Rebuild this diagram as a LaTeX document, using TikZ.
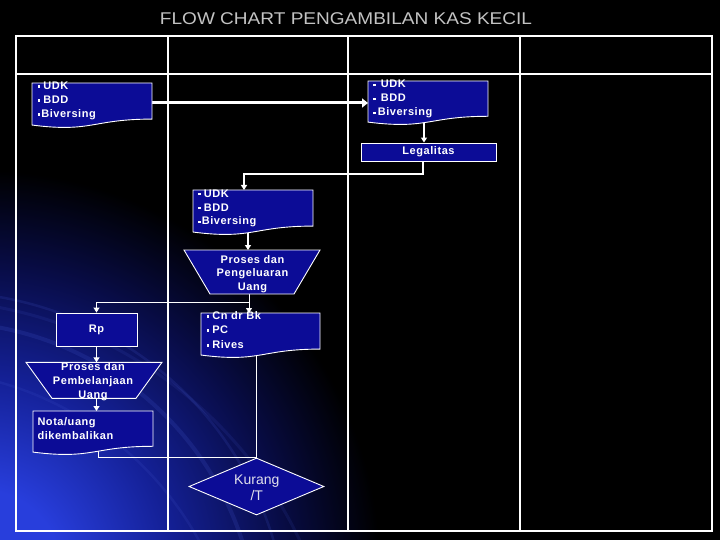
\documentclass[tikz,border=0pt]{standalone}
\usepackage{fontspec}
\setmainfont{Liberation Sans}
\newfontfamily\boxfont[LetterSpace=5.0]{Liberation Sans}
\usetikzlibrary{arrows.meta,calc,shapes.geometric}
\pgfdeclarelayer{bg}\pgfdeclarelayer{conn}\pgfdeclarelayer{shp}
\pgfsetlayers{bg,conn,shp,main}
\definecolor{boxblue}{RGB}{12,12,150}
\definecolor{titlegray}{RGB}{195,195,195}
\definecolor{glowA}{RGB}{40,62,220}
\definecolor{glowB}{RGB}{20,32,150}
\definecolor{glowC}{RGB}{8,12,70}
\definecolor{swoosh}{RGB}{70,90,210}
\pgfdeclareradialshading{glow}{\pgfpoint{0bp}{0bp}}{color(0bp)=(glowA); color(5bp)=(glowA); color(12bp)=(glowB); color(19bp)=(glowC); color(25bp)=(black); color(50bp)=(black)}
\newcommand\sqb{\rule[1.8pt]{2.6pt}{2.6pt}}
\newcommand\docpath[1]{%
  \path[shapebox] let \p1=(#1.north west), \p2=(#1.south east), \n1={\y1-\y2} in
    (\x1,\y1) -- (\x2,\y1) -- (\x2,{\y1-0.802*\n1})
    .. controls ({(\x1+\x2)/2},{\y1-0.802*\n1}) and ({(\x1+\x2)/2},{\y1-1.107*\n1}) ..
    (\x1,{\y1-0.934*\n1}) -- cycle;}
\tikzset{
  shapebox/.style={draw=white, line width=0.9pt, fill=boxblue},
  slot/.style={draw=none, inner sep=0pt, outer sep=0pt},
  btext/.style={text=white, font=\boxfont\bfseries\fontsize{11}{14}\selectfont, inner sep=0pt},
  conn/.style={draw=white, line width=1.6pt},
  thinconn/.style={draw=white, line width=1pt},
  arr/.style={-{Triangle[width=6pt,length=5pt]}},
  tableline/.style={draw=white, line width=1.3pt},
}
\begin{document}
\begin{tikzpicture}[x=1pt,y=-1pt]
\useasboundingbox (0,0) rectangle (720,540);
% ---------- background ----------
\begin{pgfonlayer}{bg}
  \fill[black] (0,0) rectangle (720,540);
  \begin{scope}
    \clip (0,0) rectangle (720,540);
    \shade[shading=glow] (-20,570) circle (400pt);
    \draw[swoosh, line width=4pt, opacity=0.18] (-60,640) circle (318pt);
    \draw[swoosh, line width=2.5pt, opacity=0.16] (-60,640) circle (348pt);
    \draw[swoosh, line width=2.5pt, opacity=0.14] (-90,700) circle (330pt);
    \draw[swoosh, line width=3pt, opacity=0.12] (-80,720) circle (420pt);
  \end{scope}
  % table
  \draw[draw=white, line width=2pt] (16,36) rectangle (712,531);
  \draw[tableline] (16,74) -- (712,74);
  \draw[tableline] (168,36) -- (168,531);
  \draw[tableline] (348,36) -- (348,531);
  \draw[tableline] (520,36) -- (520,531);
\end{pgfonlayer}

% ---------- title ----------
\node[text=titlegray, font=\fontsize{17}{20}\selectfont, anchor=base, inner sep=0pt] (title) at (346,25)
  {\scalebox{1.12}[1]{FLOW CHART PENGAMBILAN KAS KECIL}};

% ---------- node slots ----------
\node[slot, minimum width=120pt, minimum height=45pt] (d1) at (92,105.5) {};
\node[slot, minimum width=120pt, minimum height=44pt] (d2) at (428,103) {};
\node[slot, minimum width=120pt, minimum height=45pt] (d3) at (253,212.5) {};
\node[slot, minimum width=119pt, minimum height=45pt] (d4) at (260.5,335.5) {};
\node[slot, minimum width=120pt, minimum height=44pt] (nota) at (93,433) {};
\node[slot, minimum width=136pt, minimum height=44pt] (trap1) at (252,272) {};
\node[slot, minimum width=136pt, minimum height=36pt] (trap2) at (94,380.3) {};

\node[shapebox, btext, minimum width=135pt, minimum height=18pt] (leg) at (428.5,152) {Legalitas};
\node[shapebox, btext, minimum width=81pt, minimum height=33pt] (rp) at (96.5,329.5) {Rp};
\node[shapebox, diamond, minimum width=135pt, minimum height=57pt, inner sep=0pt] (dia) at (256.5,486.5) {};

% ---------- shapes ----------
\begin{pgfonlayer}{shp}
  \docpath{d1}
  \docpath{d2}
  \docpath{d3}
  \docpath{d4}
  \docpath{nota}
  \path[shapebox] (trap1.north west) -- (trap1.north east) -- ($(trap1.south east)+(-26,0)$) -- ($(trap1.south west)+(26,0)$) -- cycle;
  \path[shapebox] (trap2.north west) -- (trap2.north east) -- ($(trap2.south east)+(-26,0)$) -- ($(trap2.south west)+(26,0)$) -- cycle;
\end{pgfonlayer}

% ---------- texts ----------
\node[btext, anchor=base west] at ($(d1.north west)+(5.5,6.5)$)
  {\parbox[t]{115pt}{\sqb\hspace{3pt}UDK\\\sqb\hspace{3pt}BDD\\\sqb\hspace{1pt}Biversing}};
\node[btext, anchor=base west] at ($(d2.north west)+(5,7)$)
  {\parbox[t]{115pt}{\sqb\hspace{5pt}UDK\\\sqb\hspace{5pt}BDD\\\sqb\hspace{2pt}Biversing}};
\node[btext, anchor=base west] at ($(d3.north west)+(5,7)$)
  {\parbox[t]{115pt}{\sqb\hspace{3pt}UDK\\\sqb\hspace{3pt}BDD\\\sqb\hspace{1pt}Biversing}};
\node[btext, anchor=base west] at ($(d4.north west)+(5.5,6.3)$)
  {\parbox[t]{115pt}{\baselineskip=14.5pt\sqb\hspace{3pt}Cn dr Bk\\\sqb\hspace{3pt}PC\\\sqb\hspace{3pt}Rives}};
\node[btext, anchor=base west] at ($(nota.north west)+(4.3,14)$)
  {\parbox[t]{115pt}{\baselineskip=14.5pt Nota/uang\\dikembalikan}};
\node[btext, anchor=base] at (252.5,263)
  {\parbox[t]{130pt}{\centering\baselineskip=13.8pt Proses dan\\Pengeluaran\\Uang}};
\node[btext, anchor=base] at (93,370)
  {\parbox[t]{130pt}{\centering\baselineskip=14pt Proses dan\\Pembelanjaan\\Uang}};
\node[text={rgb,255:red,225;green,225;blue,235}, font=\fontsize{14}{15.5}\selectfont, inner sep=0pt, anchor=base] at (256.8,484.5)
  {\parbox[t]{80pt}{\centering Kurang\\/T}};

% ---------- connectors ----------
\begin{pgfonlayer}{conn}
  \draw[draw=white, line width=3pt, -{Triangle[width=9pt,length=6pt]}] (d1.east |- d2.west) -- (d2.west);
  \draw[conn, arr] ($(d2.center)+(-4,0)$) -- ($(leg.north)+(-4.5,0)$);
  \coordinate (lk) at (244,174);
  \draw[conn, arr] ($(leg.center)+(-5.5,0)$) |- (lk) -- (lk |- d3.north);
  \draw[conn, arr] ($(d3.center)+(-5,0)$) -- ($(trap1.north)+(-4,0)$);
  \coordinate (br) at (249,302);
  \draw[thinconn] (br |- trap1.center) -- (br);
  \draw[thinconn, arr] (br) -| (rp.north);
  \draw[thinconn, arr] (br) -- (br |- d4.north);
  \draw[conn, arr] (rp.south) -- (rp.south |- trap2.north);
  \draw[conn, arr] (rp.south |- trap2.center) -- (rp.south |- nota.north);
  \draw[thinconn] ($(nota.center)+(5,0)$) |- (dia.north);
  \draw[thinconn] (dia.north |- d4.center) -- (dia.north);
\end{pgfonlayer}
\end{tikzpicture}
\end{document}
